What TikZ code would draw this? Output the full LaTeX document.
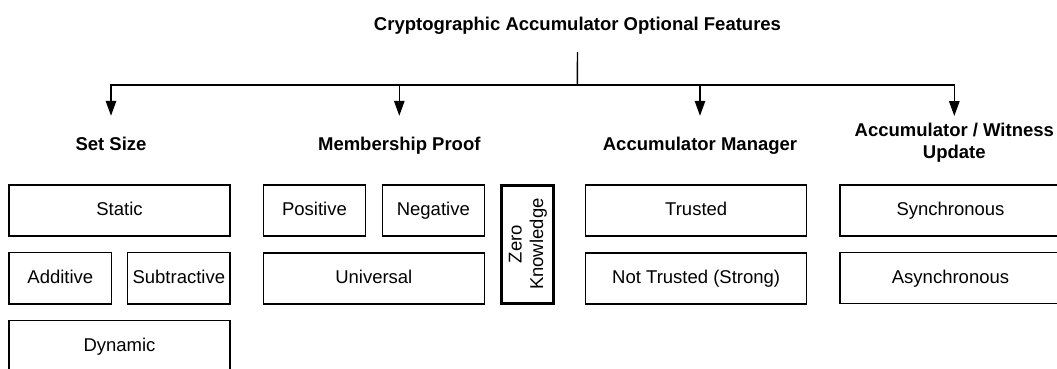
\documentclass[tikz,border=0pt]{standalone}
\usepackage{fontspec}
\setmainfont{Liberation Sans}
\usetikzlibrary{arrows.meta}
\newcommand\myfnt{\fontsize{18.5}{21.6}\selectfont}
\newcommand\myboldfnt{\fontsize{18.5}{21.6}\selectfont\bfseries}
\tikzset{
  box/.style={draw=black, line width=1.3pt, fill=white, inner sep=0pt, font=\myfnt, text height=14pt, text depth=3.6pt},
  heading/.style={font=\myboldfnt, anchor=base, text height=13.3pt, text depth=0pt, inner ysep=21.2pt, inner xsep=2pt},
  conn/.style={line width=1.4pt, draw=black},
  arr/.style={conn, -{Triangle[length=15pt,width=10.5pt]}},
}
\begin{document}
\begin{tikzpicture}[x=1pt, y=-1pt]
\useasboundingbox (0,0) rectangle (1057,368);
\clip (0,0) rectangle (1057,368);

% title
\node[font=\myboldfnt, anchor=base, text height=13.3pt, text depth=0pt, inner ysep=22pt] (title) at (577.5,30) {Cryptographic Accumulator Optional Features};
\coordinate (junc) at (577.3,85);

% headings
\node[heading] (hset) at (111,150.5) {Set Size};
\node[heading] (hmem) at (399.3,150.5) {Membership Proof};
\node[heading] (hman) at (700,150.5) {Accumulator Manager};
\node[font=\myboldfnt, align=center, anchor=north, inner ysep=7pt, inner xsep=2pt] (hupd) at (954.3,116) {Accumulator / Witness\\Update};

% connectors
\draw[conn] (title.south) -- (junc);
\draw[arr] (junc) -| (hset.north);
\draw[arr] (junc) -| (hmem.north);
\draw[arr] (junc) -| (hman.north);
\draw[arr] (junc) -| (hupd.north);

% set size
\node[box, minimum width=221pt, minimum height=51pt] (static) at (119.5,210.5) {Static};
\node[box, minimum width=102.7pt, minimum height=51.3pt] (additive) at (60.35,278.35) {Additive};
\node[box, minimum width=102.3pt, minimum height=51.3pt] (subtractive) at (178.85,278.35) {Subtractive};
\node[box, minimum width=221pt, minimum height=51pt] (dynamic) at (119.5,346.2) {Dynamic};

% membership proof
\node[box, minimum width=102.4pt, minimum height=51pt] (positive) at (314.5,210.5) {Positive};
\node[box, minimum width=102pt, minimum height=51pt] (negative) at (433.3,210.5) {Negative};
\node[box, minimum width=221pt, minimum height=51pt] (universal) at (373.8,278.5) {Universal};
\node[draw=black, line width=3pt, fill=white, inner sep=0pt, font=\myfnt, rotate=90, align=center, minimum width=118pt, minimum height=52pt] (zk) at (527.85,244.15) {Zero\\Knowledge};

% manager
\node[box, minimum width=221pt, minimum height=51pt] (trusted) at (696.2,210.5) {Trusted};
\node[box, minimum width=221pt, minimum height=51pt] (nottrusted) at (696.2,278.5) {Not Trusted (Strong)};

% update
\node[box, minimum width=221pt, minimum height=51pt] (sync) at (950.5,210.5) {Synchronous};
\node[box, minimum width=221pt, minimum height=51pt] (async) at (950.5,278.2) {Asynchronous};
\end{tikzpicture}
\end{document}
